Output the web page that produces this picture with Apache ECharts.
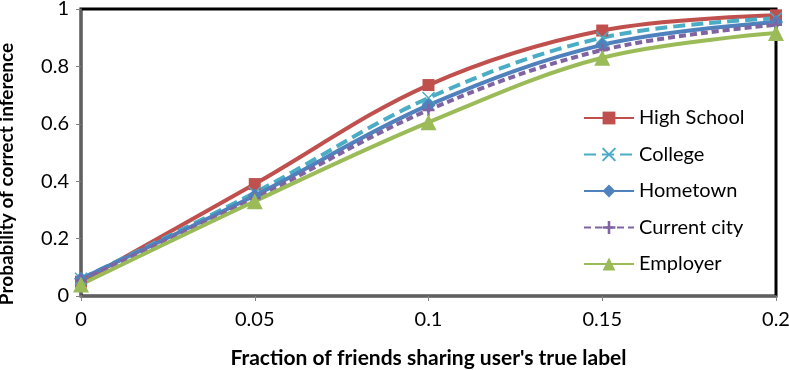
<!DOCTYPE html>
<html>
<head>
<meta charset="utf-8">
<script src="https://cdn.jsdelivr.net/npm/echarts@6/dist/echarts.min.js"></script>
<style>
html,body{margin:0;padding:0;background:#fff}
#chart{width:789px;height:370px}
</style>
</head>
<body>
<div id="chart"></div>
<script>
const xs=[0,0.05,0.1,0.15,0.2];
const highSchool=[0.05,0.39,0.735,0.925,0.978];
const college=[0.06,0.36,0.69,0.90,0.968];
const hometown=[0.06,0.35,0.665,0.875,0.955];
const currentCity=[0.055,0.34,0.648,0.857,0.945];
const employer=[0.04,0.33,0.605,0.83,0.916];

const font="Lato";
const xMark="path://M0,0L10,10M10,0L0,10";
const plusMark="path://M4,0H6V4H10V6H6V10H4V6H0V4H4Z";

function pts(v){return xs.map((x,i)=>[x,v[i]]);}

function line(name,data,color,symbol,size,dash){
  return{
    name,type:"line",data:pts(data),smooth:0.35,
    symbol,symbolSize:size,
    lineStyle:{color,width:4,type:dash||"solid"},
    itemStyle:symbol===xMark?{color:"none",borderColor:color,borderWidth:1.5}:{color},
    color
  };
}

const chart=echarts.init(document.getElementById("chart"));
chart.setOption({
  animation:false,
  textStyle:{fontFamily:font},
  grid:{left:81,right:13,top:9,bottom:74,outerBoundsMode:"none",containLabel:false,
    show:true,borderColor:"#000",borderWidth:3,backgroundColor:"#fff"},
  legend:{
    orient:"vertical",left:578,top:103,
    itemWidth:50,itemHeight:16,itemGap:16.5,
    textStyle:{fontFamily:font,fontSize:20,color:"#000"},
    data:["High School","College","Hometown","Current city","Employer"]
  },
  xAxis:{
    type:"value",min:0,max:0.2,interval:0.05,
    name:"Fraction of friends sharing user's true label",
    nameLocation:"middle",nameGap:52,
    nameTextStyle:{fontFamily:font,fontWeight:"bold",fontSize:21,color:"#000"},
    axisLine:{show:true,lineStyle:{color:"#808080",width:1.5}},
    axisTick:{show:true,length:5,lineStyle:{color:"#808080"}},
    axisLabel:{fontFamily:font,fontSize:20,color:"#000",margin:14},
    splitLine:{show:false}
  },
  yAxis:{
    type:"value",min:0,max:1,interval:0.2,
    name:"Probability of correct inference",
    nameLocation:"middle",nameGap:65,
    nameTextStyle:{fontFamily:font,fontWeight:"bold",fontSize:19,color:"#000",padding:[0,43,0,0]},
    axisLine:{show:true,lineStyle:{color:"#808080",width:1.5}},
    axisTick:{show:true,length:5,lineStyle:{color:"#808080"}},
    axisLabel:{fontFamily:font,fontSize:20,color:"#000",margin:12},
    splitLine:{show:false}
  },
  series:[
    line("High School",highSchool,"#C0504D","rect",12),
    line("College",college,"#4BACC6",xMark,12,[12,6]),
    line("Hometown",hometown,"#4F81BD","diamond",14),
    line("Current city",currentCity,"#8064A2",plusMark,12,[7,4]),
    line("Employer",employer,"#9BBB59","triangle",16)
  ]
});
</script>
</body>
</html>
